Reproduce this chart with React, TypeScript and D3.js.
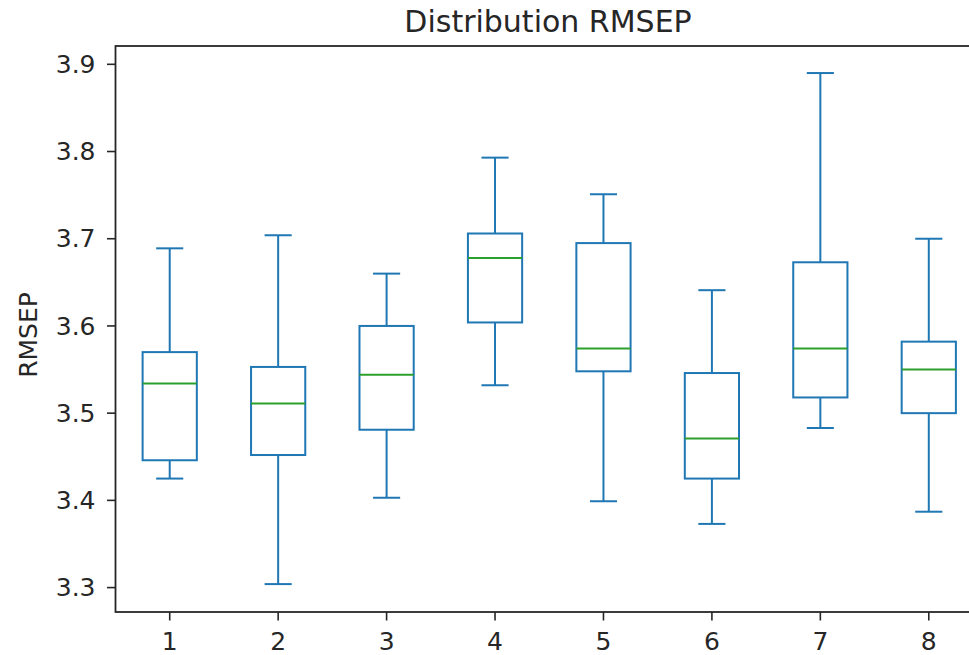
import * as d3 from 'd3'
import React from 'react'

// box stats: whisker low, Q1, median, Q3, whisker high
const categories = ['1', '2', '3', '4', '5', '6', '7', '8']
const whiskerLow = [3.425, 3.304, 3.403, 3.532, 3.399, 3.373, 3.483, 3.387]
const q1 = [3.446, 3.452, 3.481, 3.604, 3.548, 3.425, 3.518, 3.500]
const median = [3.534, 3.511, 3.544, 3.678, 3.574, 3.471, 3.574, 3.550]
const q3 = [3.570, 3.553, 3.600, 3.706, 3.695, 3.546, 3.673, 3.582]
const whiskerHigh = [3.689, 3.704, 3.660, 3.793, 3.751, 3.641, 3.890, 3.700]
const yTicks = [3.3, 3.4, 3.5, 3.6, 3.7, 3.8, 3.9]

const width = 969
const height = 655
const left = 115.5
const right = 983
const top = 46
const bottom = 612

const blue = '#1f77b4'
const green = '#2ca02c'
const ink = '#262626'
const font = '"DejaVu Sans", sans-serif'

export default function App() {
  const x = d3.scaleLinear().domain([0.5, 8.5]).range([left, right])
  const y = d3.scaleLinear().domain([3.272, 3.921]).range([bottom, top])

  const boxes = categories.map((c, i) => ({
    name: c,
    pos: i + 1,
    lo: whiskerLow[i],
    q1: q1[i],
    med: median[i],
    q3: q3[i],
    hi: whiskerHigh[i],
  }))

  return (
    <svg width={width} height={height} style={{ position: 'absolute', left: 0, top: 0 }}>
      <rect width={width} height={height} fill="#fff" />

      <text x={548} y={32} textAnchor="middle" fontFamily={font} fontSize={30} fill={ink}>
        Distribution RMSEP
      </text>

      {boxes.map(b => {
        const cx = x(b.pos)
        const bx0 = x(b.pos - 0.25)
        const bx1 = x(b.pos + 0.25)
        const cx0 = x(b.pos - 0.125)
        const cx1 = x(b.pos + 0.125)
        return (
          <g key={b.name} strokeWidth={2} fill="none">
            <line x1={cx} x2={cx} y1={y(b.q3)} y2={y(b.hi)} stroke={blue} />
            <line x1={cx} x2={cx} y1={y(b.q1)} y2={y(b.lo)} stroke={blue} />
            <line x1={cx0} x2={cx1} y1={y(b.hi)} y2={y(b.hi)} stroke={blue} />
            <line x1={cx0} x2={cx1} y1={y(b.lo)} y2={y(b.lo)} stroke={blue} />
            <rect x={bx0} y={y(b.q3)} width={bx1 - bx0} height={y(b.q1) - y(b.q3)} stroke={blue} />
            <line x1={bx0} x2={bx1} y1={y(b.med)} y2={y(b.med)} stroke={green} />
          </g>
        )
      })}

      {/* frame */}
      <rect x={left} y={top} width={right - left} height={bottom - top} fill="none" stroke={ink} strokeWidth={1.8} />

      {yTicks.map(t => (
        <g key={t} transform={`translate(0,${y(t)})`}>
          <line x1={left - 8.5} x2={left} stroke={ink} strokeWidth={1.6} />
          <text x={left - 20} dy="0.35em" textAnchor="end" fontFamily={font} fontSize={25} fill={ink}>
            {t.toFixed(1)}
          </text>
        </g>
      ))}

      {boxes.map(b => (
        <g key={b.name} transform={`translate(${x(b.pos)},0)`}>
          <line y1={bottom} y2={bottom + 8.5} stroke={ink} strokeWidth={1.6} />
          <text y={650} textAnchor="middle" fontFamily={font} fontSize={25} fill={ink}>
            {b.name}
          </text>
        </g>
      ))}

      <text
        transform={`translate(37,335) rotate(-90)`}
        textAnchor="middle"
        fontFamily={font}
        fontSize={25}
        fill={ink}
      >
        RMSEP
      </text>
    </svg>
  )
}
